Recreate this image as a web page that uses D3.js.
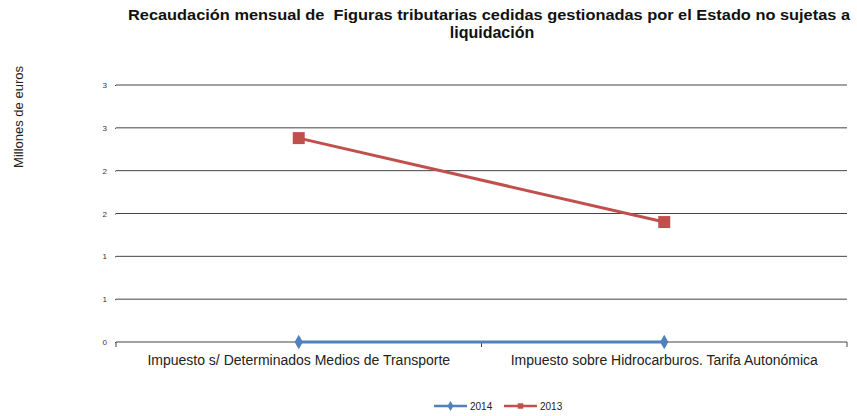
<!DOCTYPE html>
<html>
<head>
<meta charset="utf-8">
<script src="https://cdn.jsdelivr.net/npm/d3@7"></script>
<style>
  body { margin: 0; background: #fff; }
  text { font-family: "Liberation Sans", Arial, sans-serif; }
</style>
</head>
<body>
<div id="chart"></div>
<script>
var categories = ["Impuesto s/ Determinados Medios de Transporte", "Impuesto sobre Hidrocarburos. Tarifa Autonómica"];
var values2014 = [0, 0];
var values2013 = [2.38, 1.40];
var yTicks = [0, 0.5, 1, 1.5, 2, 2.5, 3];

var svgWidth = 857;
var svgHeight = 416;
var margin = { top: 85, right: 10, bottom: 74, left: 116 };
var width = svgWidth - margin.left - margin.right;
var height = svgHeight - margin.top - margin.bottom;

var svg = d3.select("#chart")
  .append("svg")
  .attr("width", svgWidth)
  .attr("height", svgHeight);

var chart = svg.append("g")
  .attr("transform", `translate(${margin.left}, ${margin.top})`);

var xScale = d3.scaleBand()
  .domain(categories)
  .range([0, width]);

var yScale = d3.scaleLinear()
  .domain([0, 3])
  .range([height, 0]);

// gridlines
chart.selectAll(".grid")
  .data(yTicks.slice(1))
  .enter()
  .append("line")
  .attr("x1", 0)
  .attr("x2", width)
  .attr("y1", d => yScale(d))
  .attr("y2", d => yScale(d))
  .attr("stroke", "#444")
  .attr("stroke-width", 1);

var leftAxis = d3.axisLeft(yScale)
  .tickValues(yTicks)
  .tickSize(1)
  .tickFormat(d => d3.format(".0f")(d));

var yAxis = chart.append("g").call(leftAxis);
yAxis.select(".domain").remove();
yAxis.selectAll("line").attr("stroke", "#444");
yAxis.selectAll("text")
  .attr("x", -9)
  .style("font-size", "8px")
  .style("font-family", "Liberation Sans, Arial, sans-serif")
  .attr("fill", "#333");

// x axis
var xAxisG = chart.append("g").attr("transform", `translate(0, ${height})`);
xAxisG.append("line")
  .attr("x1", 0).attr("x2", width)
  .attr("y1", 0).attr("y2", 0)
  .attr("stroke", "#444");
xAxisG.selectAll(".xtick")
  .data([0, 1, 2])
  .enter()
  .append("line")
  .attr("x1", d => d === 2 ? width : xScale(categories[d]))
  .attr("x2", d => d === 2 ? width : xScale(categories[d]))
  .attr("y1", 0).attr("y2", 5)
  .attr("stroke", "#444");
xAxisG.selectAll(".xlab")
  .data(categories)
  .enter()
  .append("text")
  .attr("x", d => xScale(d) + xScale.bandwidth() / 2)
  .attr("y", 23)
  .attr("text-anchor", "middle")
  .style("font-size", "14px")
  .attr("fill", "#222")
  .text(d => d);

var cx = d => xScale(d) + xScale.bandwidth() / 2;

var line = d3.line()
  .x(d => cx(d.cat))
  .y(d => yScale(d.v));

var data2013 = categories.map((c, i) => ({ cat: c, v: values2013[i] }));
var data2014 = categories.map((c, i) => ({ cat: c, v: values2014[i] }));

chart.append("path")
  .datum(data2013)
  .attr("d", line)
  .attr("fill", "none")
  .attr("stroke", "#c0504d")
  .attr("stroke-width", 3);

chart.selectAll(".sq")
  .data(data2013)
  .enter()
  .append("rect")
  .attr("x", d => cx(d.cat) - 6)
  .attr("y", d => yScale(d.v) - 6)
  .attr("width", 12)
  .attr("height", 12)
  .attr("fill", "#c0504d");

chart.append("path")
  .datum(data2014)
  .attr("d", line)
  .attr("fill", "none")
  .attr("stroke", "#4f81bd")
  .attr("stroke-width", 3);

chart.selectAll(".dm")
  .data(data2014)
  .enter()
  .append("path")
  .attr("d", d3.symbol().type(d3.symbolDiamond).size(60))
  .attr("transform", d => `translate(${cx(d.cat)}, ${yScale(d.v)})`)
  .attr("fill", "#4f81bd");

// title
var title = svg.append("text")
  .attr("text-anchor", "middle")
  .style("font-size", "15px")
  .style("font-weight", "bold")
  .style("white-space", "pre")
  .attr("fill", "#111");
title.append("tspan").attr("x", 489).attr("y", 20)
  .attr("textLength", 722)
  .attr("lengthAdjust", "spacingAndGlyphs")
  .text("Recaudación mensual de  Figuras tributarias cedidas gestionadas por el Estado no sujetas a");
title.append("tspan").attr("x", 492).attr("y", 38)
  .style("font-size", "16px")
  .text("liquidación");

// y axis label
svg.append("text")
  .attr("transform", "translate(23, 117) rotate(-90)")
  .attr("text-anchor", "middle")
  .style("font-size", "13px")
  .attr("fill", "#222")
  .text("Millones de euros");

// legend
var legend = svg.append("g").attr("transform", "translate(434, 406)");
var series = [
  { name: "2014", color: "#4f81bd", sym: d3.symbolDiamond, size: 30 },
  { name: "2013", color: "#c0504d", sym: d3.symbolSquare, size: 30 }
];
var lg = legend.selectAll("g")
  .data(series)
  .enter()
  .append("g")
  .attr("transform", (d, i) => `translate(${i * 70}, 0)`);
lg.append("line")
  .attr("x1", 0).attr("x2", 33)
  .attr("y1", 0).attr("y2", 0)
  .attr("stroke", d => d.color)
  .attr("stroke-width", 2.5);
lg.append("path")
  .attr("d", d => d3.symbol().type(d.sym).size(d.size)())
  .attr("transform", "translate(16.5, 0)")
  .attr("fill", d => d.color);
lg.append("text")
  .attr("x", 36)
  .attr("y", 3.5)
  .style("font-size", "10px")
  .attr("fill", "#222")
  .text(d => d.name);
</script>
</body>
</html>
